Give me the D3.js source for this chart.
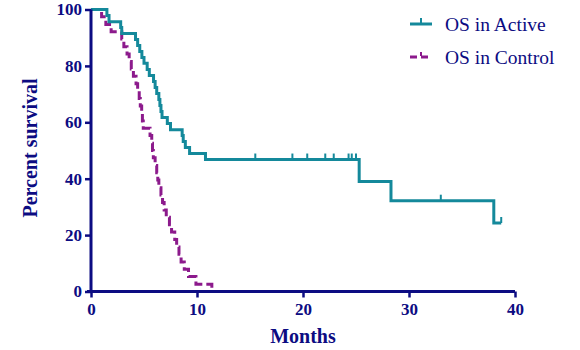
<!DOCTYPE html>
<html>
<head>
<meta charset="utf-8">
<script src="https://cdn.jsdelivr.net/npm/d3@7"></script>
<style>
  body { margin: 0; background: #fff; }
  text { font-family: "Liberation Serif", "Times New Roman", serif; }
</style>
</head>
<body>
<div id="chart"></div>
<script>
// OS in Active: step times (months) and survival (%) after each step
const activeTimes = [0, 1.5, 1.7, 2.8, 2.9, 4.2, 4.4, 4.6, 4.8, 5.0, 5.3, 5.5, 5.9, 6.05, 6.2, 6.4, 6.5, 6.6, 6.7, 7.2, 7.5, 8.6, 8.7, 8.9, 9.3, 10.8, 25.3, 28.3, 38.0, 38.7];
const activeSurv  = [100, 97.9, 95.7, 93.6, 91.5, 89.4, 87.2, 85.1, 83.0, 80.9, 78.7, 76.6, 74.5, 72.3, 70.2, 68.1, 66.0, 63.8, 61.7, 59.6, 57.4, 55.3, 53.2, 51.1, 48.9, 46.8, 39.0, 32.2, 24.3, 24.3];
const activeCensored = [15.5, 19.0, 20.4, 22.1, 22.9, 24.3, 24.6, 25.0, 33.0, 38.7];

// OS in Control
const controlTimes = [0, 1.0, 1.4, 1.9, 2.9, 3.1, 3.4, 3.6, 3.8, 4.0, 4.25, 4.4, 4.55, 4.65, 4.78, 4.85, 4.93, 5.57, 5.73, 5.8, 5.88, 6.05, 6.2, 6.3, 6.4, 6.6, 6.75, 6.9, 7.1, 7.4, 7.6, 7.9, 8.08, 8.3, 8.5, 8.8, 9.2, 9.9, 11.4];
const controlSurv  = [100, 97.4, 94.7, 92.1, 89.5, 86.8, 84.2, 81.6, 78.9, 76.3, 73.7, 71.1, 68.4, 65.8, 63.2, 60.5, 57.9, 55.3, 52.6, 50.0, 47.4, 44.7, 42.1, 39.5, 36.8, 34.2, 31.6, 28.9, 26.3, 23.7, 21.1, 18.4, 15.8, 13.2, 10.5, 7.9, 5.3, 2.6, 0];

const xTicks = [0, 10, 20, 30, 40];
const yTicks = [0, 20, 40, 60, 80, 100];
const seriesNames = ["OS in Active", "OS in Control"];

const width = 580, height = 350;
const navy = "#0c0c82", teal = "#14899b", purple = "#8c1a8c";

const svg = d3.select("#chart")
  .append("svg")
  .attr("width", width)
  .attr("height", height);

const x = d3.scaleLinear().domain([0, 40]).range([91, 515]);
const y = d3.scaleLinear().domain([0, 100]).range([291.5, 9.5]);

const line = d3.line()
  .x(d => x(d[0]))
  .y(d => y(d[1]))
  .curve(d3.curveStepAfter);

const active = d3.zip(activeTimes, activeSurv);
const control = d3.zip(controlTimes, controlSurv);

// survival value at time t (step function)
function survAt(times, surv, t) {
  const i = d3.bisectRight(times, t) - 1;
  return surv[Math.max(0, i)];
}

// curves
svg.append("path")
  .datum(control)
  .attr("fill", "none")
  .attr("stroke", purple)
  .attr("stroke-width", 3)
  .attr("stroke-dasharray", "9,4")
  .attr("d", line);

svg.append("path")
  .datum(active)
  .attr("fill", "none")
  .attr("stroke", teal)
  .attr("stroke-width", 3)
  .attr("d", line);

svg.append("g")
  .selectAll("line")
  .data(activeCensored)
  .join("line")
  .attr("x1", d => x(d)).attr("x2", d => x(d))
  .attr("y1", d => y(survAt(activeTimes, activeSurv, d)))
  .attr("y2", d => y(survAt(activeTimes, activeSurv, d)) - 6)
  .attr("stroke", teal)
  .attr("stroke-width", 2);

// axes
const xAxis = svg.append("g")
  .attr("transform", `translate(0,${y(0)})`)
  .call(d3.axisBottom(x).tickValues(xTicks).tickSize(6).tickPadding(5));

const yAxis = svg.append("g")
  .attr("transform", `translate(${x(0)},0)`)
  .call(d3.axisLeft(y).tickValues(yTicks).tickSize(6).tickPadding(3));

[xAxis, yAxis].forEach(g => {
  g.select(".domain").attr("stroke", navy).attr("stroke-width", 3);
  g.selectAll(".tick line").attr("stroke", navy).attr("stroke-width", 2.5);
  g.selectAll(".tick text")
    .attr("fill", navy)
    .attr("font-size", 17)
    .attr("font-weight", "bold")
    .style("font-family", "'Liberation Serif', serif");
});
xAxis.select(".domain").attr("d", `M${x(0) - 4},0H${x(40)}`);
yAxis.select(".domain").attr("d", `M0,${y(0) + 1}V${y(100)}`);

// axis titles
svg.append("text")
  .attr("x", 303)
  .attr("y", 343)
  .attr("text-anchor", "middle")
  .attr("fill", navy)
  .attr("font-size", 20)
  .attr("font-weight", "bold")
  .text("Months");

svg.append("text")
  .attr("transform", "translate(37,148) rotate(-90)")
  .attr("text-anchor", "middle")
  .attr("fill", navy)
  .attr("font-size", 20)
  .attr("font-weight", "bold")
  .text("Percent survival");

// legend
const legend = svg.append("g");
const legendY = [24, 57];

legend.append("line")
  .attr("x1", 410).attr("x2", 432)
  .attr("y1", legendY[0]).attr("y2", legendY[0])
  .attr("stroke", teal).attr("stroke-width", 3);
legend.append("line")
  .attr("x1", 421).attr("x2", 421)
  .attr("y1", legendY[0]).attr("y2", legendY[0] - 6)
  .attr("stroke", teal).attr("stroke-width", 2);

legend.append("line")
  .attr("x1", 410).attr("x2", 432)
  .attr("y1", legendY[1]).attr("y2", legendY[1])
  .attr("stroke", purple).attr("stroke-width", 3)
  .attr("stroke-dasharray", "7,4");
legend.append("line")
  .attr("x1", 421).attr("x2", 421)
  .attr("y1", legendY[1] - 1).attr("y2", legendY[1] - 5)
  .attr("stroke", purple).attr("stroke-width", 2);

legend.selectAll("text")
  .data(seriesNames)
  .join("text")
  .attr("x", 445)
  .attr("y", (d, i) => legendY[i] + 7)
  .attr("fill", navy)
  .attr("font-size", 19.5)
  .text(d => d);
</script>
</body>
</html>
